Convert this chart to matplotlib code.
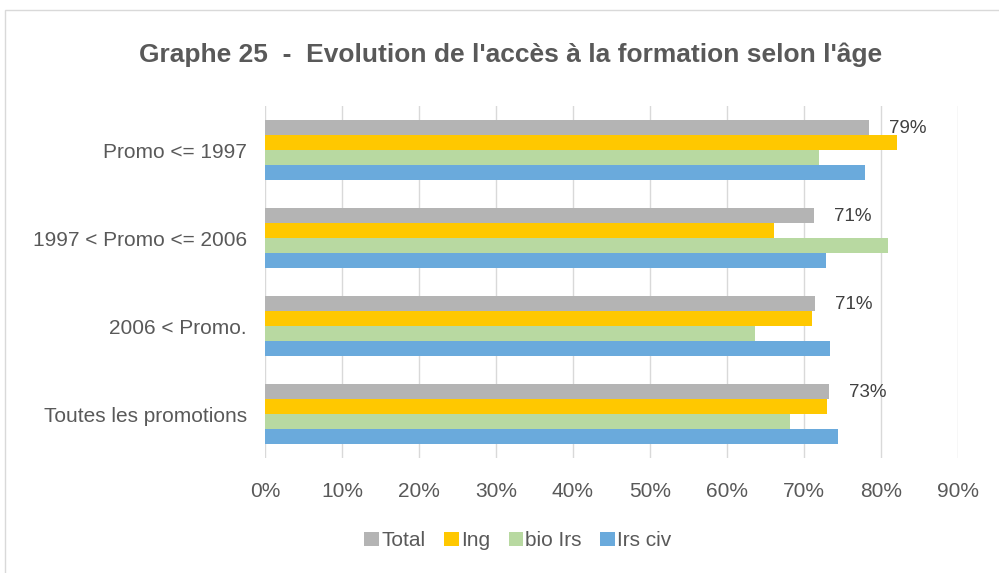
import matplotlib
matplotlib.use("Agg")
import matplotlib.pyplot as plt
from matplotlib.patches import Rectangle
import numpy as np

plt.rcParams['font.family'] = ['Liberation Sans', 'DejaVu Sans']

categories = ["Promo <= 1997", "1997 < Promo <= 2006", "2006 < Promo.", "Toutes les promotions"]
series = ["Total", "Ing", "bio Irs", "Irs civ"]
total = [0.785, 0.713, 0.714, 0.733]
ing = [0.821, 0.661, 0.711, 0.730]
bio = [0.720, 0.809, 0.636, 0.682]
irs = [0.779, 0.728, 0.734, 0.744]
total_labels = ["79%", "71%", "71%", "73%"]
colors = ["#b4b4b4", "#ffc800", "#b8d9a1", "#6aaadc"]
text_col = "#595959"

fig = plt.figure(figsize=(9.99, 5.73), dpi=100)
fig.patches.append(Rectangle((5 / 999, -0.1), 1.1, (573 - 10) / 573 + 0.1,
                             transform=fig.transFigure, fill=False,
                             edgecolor="#d9d9d9", linewidth=1))
ax = fig.add_axes([265 / 999, (573 - 458) / 573, (958 - 265) / 999, 352 / 573])

y = np.arange(len(categories))
h = 0.173
offsets = [-1.5 * h, -0.5 * h, 0.5 * h, 1.5 * h]
for vals, off, c, name in zip([total, ing, bio, irs], offsets, colors, series):
    ax.barh(y + off, vals, height=h, color=c, label=name, zorder=2)

for yi, v, lab in zip(y, total, total_labels):
    ax.text(v + 0.026, yi + offsets[0] + 0.02, lab, va="center", ha="left",
            fontsize=13.5, color="#404040")

ax.set_xlim(0, 0.9)
ax.set_ylim(3.5, -0.5)
ax.set_xticks(np.arange(0, 0.91, 0.1))
ax.set_xticklabels([f"{int(round(t * 100))}%" for t in np.arange(0, 0.91, 0.1)])
ax.set_yticks(y)
ax.set_yticklabels(categories)
ax.tick_params(axis="both", length=0, labelsize=15, labelcolor=text_col)
ax.tick_params(axis="x", pad=17)
ax.tick_params(axis="y", pad=13)
ax.grid(axis="x", color="#d9d9d9", linewidth=1, zorder=0)
for s in ax.spines.values():
    s.set_visible(False)

fig.text(511 / 999, 1 - 55 / 573, "Graphe 25  -  Evolution de l'accès à la formation selon l'âge",
         ha="center", va="center", fontsize=19, fontweight="bold", color=text_col)

ax.legend(loc="center", bbox_to_anchor=(0.365, -0.235), ncol=4, frameon=False,
          fontsize=15, handlelength=0.7, handleheight=0.7, handletextpad=0.1,
          columnspacing=0.9, labelcolor=text_col)

fig.savefig("out.png", dpi=100)
plt.close(fig)
